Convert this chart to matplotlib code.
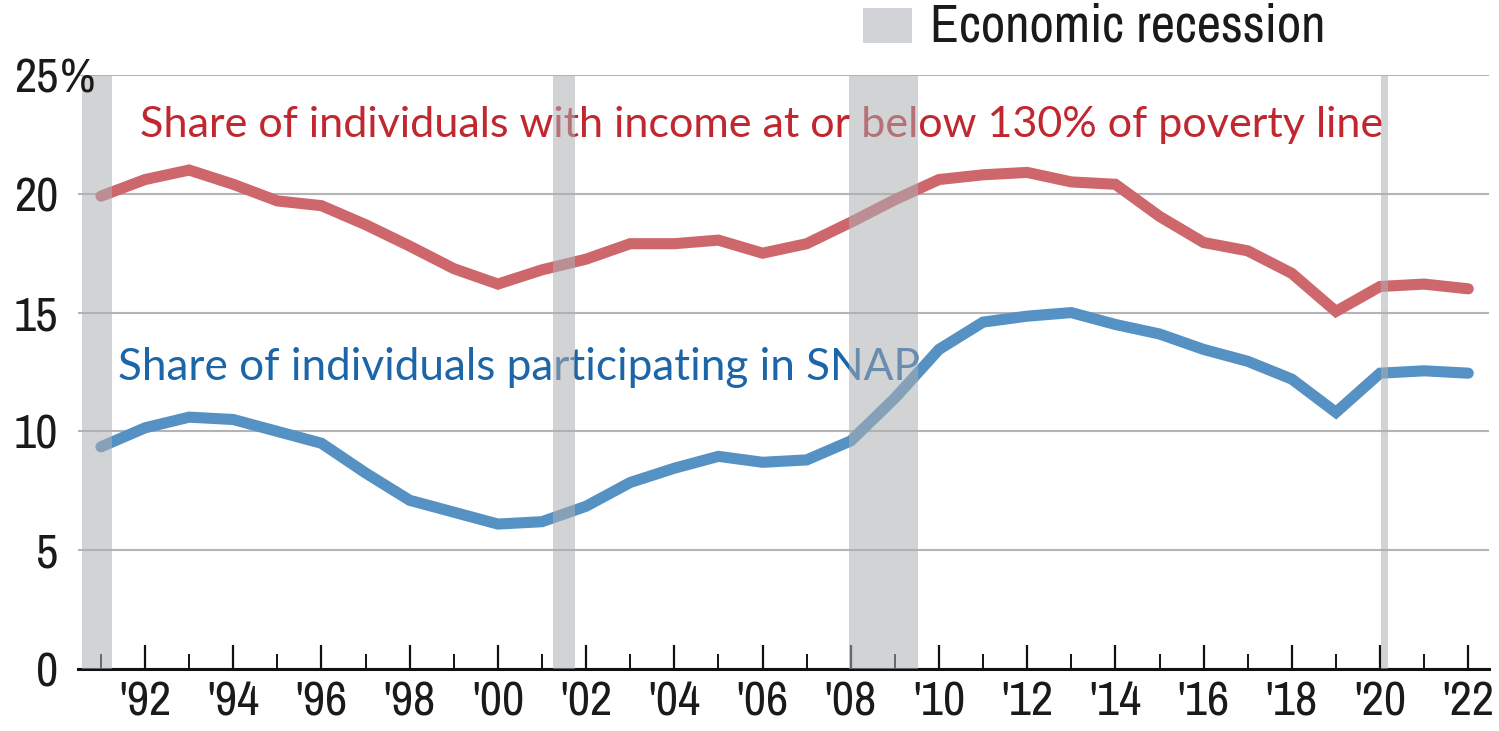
import matplotlib
matplotlib.use("Agg")
import matplotlib.pyplot as plt
from matplotlib import font_manager
from matplotlib.patches import Rectangle

# data: share of individuals (%), by year
years = list(range(1991, 2023))
poverty_130 = [19.9, 20.6, 21.0, 20.4, 19.7, 19.5, 18.7, 17.8, 16.85, 16.2,
               16.8, 17.25, 17.9, 17.9, 18.05, 17.5, 17.9, 18.8, 19.75, 20.6,
               20.8, 20.9, 20.5, 20.4, 19.05, 17.95, 17.6, 16.65, 15.05, 16.1,
               16.2, 16.0]
snap = [9.35, 10.15, 10.6, 10.5, 10.0, 9.5, 8.25, 7.1, 6.6, 6.1,
        6.2, 6.85, 7.85, 8.45, 8.95, 8.7, 8.8, 9.6, 11.4, 13.45,
        14.6, 14.85, 15.0, 14.5, 14.1, 13.45, 12.95, 12.2, 10.8, 12.45,
        12.55, 12.45]

recessions = [(1990.57, 1991.24), (2001.24, 2001.75), (2007.95, 2009.53), (2020.02, 2020.18)]

yticks = [0, 5, 10, 15, 20, 25]
xticks = list(range(1992, 2023, 2))
xminor = list(range(1991, 2023, 2))
xlabels = ["'" + str(y)[2:] for y in xticks]

poverty_label = "Share of individuals with income at or below 130% of poverty line"
snap_label = "Share of individuals participating in SNAP"
legend_label = "Economic recession"

red_line = "#cd676b"
red_text = "#c0272f"
blue_line = "#5591c2"
blue_text = "#1b65a8"
shade = "#acafb3"
ink = "#1a1a1a"

# prefer a condensed face for the numbers if one is around
fonts = font_manager.fontManager.ttflist
narrow = None
for f in fonts:
    if "Narrow" in f.name or "Condensed" in f.name:
        narrow = f.name
        break
if narrow is None:
    names = {f.name for f in fonts}
    narrow = "Roboto" if "Roboto" in names else "DejaVu Sans"
label_font = "Lato"
num_weight = "light"

W, H = 1499, 731
fig = plt.figure(figsize=(W / 100, H / 100), dpi=100)
ax = fig.add_axes([78 / W, 62 / H, 1411 / W, 594 / H])

ax.plot(years, poverty_130, color=red_line, lw=8, solid_capstyle="round",
        solid_joinstyle="miter", zorder=3)
ax.plot(years, snap, color=blue_line, lw=8, solid_capstyle="round",
        solid_joinstyle="miter", zorder=3)

for a, b in recessions:
    ax.axvspan(a, b, ymin=0, ymax=1, color=shade, alpha=0.55, lw=0, zorder=10)

ax.set_xlim(1990.48, 2022.47)
ax.set_ylim(0, 25)

ax.set_yticks(yticks)
ax.set_yticklabels([str(v) for v in yticks])
ax.set_xticks(xticks)
ax.set_xticklabels(xlabels)
ax.set_xticks(xminor, minor=True)

ax.grid(axis="y", color="#b4b4b4", lw=1.5, zorder=1)
ax.set_axisbelow(True)
for s in ["top", "right", "left"]:
    ax.spines[s].set_visible(False)
ax.spines["bottom"].set_linewidth(2.2)
ax.spines["bottom"].set_color("#111111")
ax.spines["bottom"].set_zorder(4)

ax.tick_params(axis="y", length=0, pad=14, labelsize=35)
ax.tick_params(axis="x", which="major", direction="in", length=17, width=1.6,
               pad=8, labelsize=35, color="#111111")
ax.tick_params(axis="x", which="minor", direction="in", length=11, width=1.4,
               color="#111111")
for lab in ax.get_xticklabels() + ax.get_yticklabels():
    lab.set_family(narrow)
    lab.set_weight(num_weight)
    lab.set_color(ink)

t_red = ax.text(1991.88, 22.4, poverty_label, color=red_text, ha="left",
                va="baseline", fontsize=30, family=label_font, zorder=5)
t_blue = ax.text(1991.38, 12.15, snap_label, color=blue_text, ha="left",
                 va="baseline", fontsize=30, family=label_font, zorder=5)

# legend for the shaded bands
fig.patches.append(Rectangle((863 / W, 1 - 43 / H), 49 / W, 35 / H,
                             transform=fig.transFigure, color="#d1d3d6", lw=0))
t_leg = fig.text(930 / W, 1 - 42 / H, legend_label, ha="left", va="baseline",
                 fontsize=33, family=narrow, weight=num_weight, color=ink)

# scale the text blocks to their intended widths
fig.canvas.draw()
r = fig.canvas.get_renderer()
for t, width in [(t_red, 1245), (t_blue, 800), (t_leg, 395)]:
    w = t.get_window_extent(r).width
    t.set_fontsize(t.get_fontsize() * width / w)

# percent sign right after the top tick label
top = ax.get_yticklabels()[-1].get_window_extent(r)
fig.text((top.x1 + 1) / W, top.y0 / H, "%", ha="left", va="bottom",
         fontsize=35, family=narrow, weight=num_weight, color=ink)

fig.savefig("out.png", dpi=100)
